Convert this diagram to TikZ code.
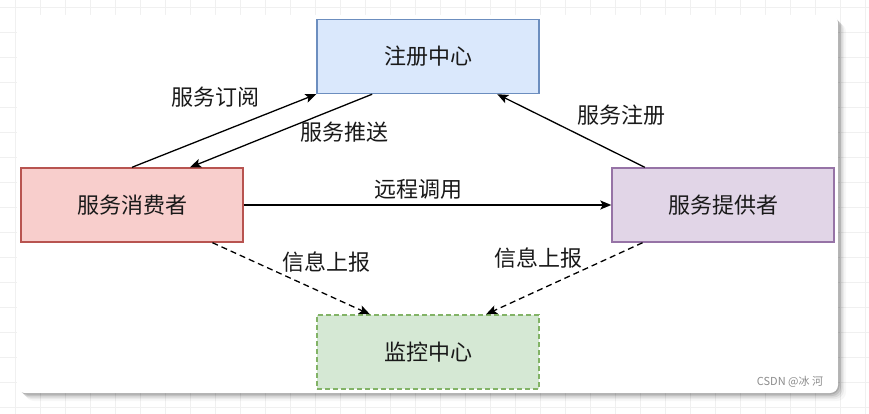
\documentclass[tikz,border=0pt]{standalone}
\usepackage{fontspec}
\setmainfont{Noto Sans CJK SC}
\usetikzlibrary{calc,arrows.meta,positioning}
\definecolor{regfill}{HTML}{DAE8FC}
\definecolor{regline}{HTML}{6C8EBF}
\definecolor{consfill}{HTML}{F8CECC}
\definecolor{consline}{HTML}{B85450}
\definecolor{provfill}{HTML}{E1D5E7}
\definecolor{provline}{HTML}{9673A6}
\definecolor{monfill}{HTML}{D5E8D4}
\definecolor{monline}{HTML}{82B366}
\definecolor{gridgray}{HTML}{F0F0F0}

\begin{document}
\begin{tikzpicture}[x=1pt, y=-1pt, font=\fontsize{22}{26}\selectfont,
    box/.style={draw, line width=1.4pt, minimum width=222pt, minimum height=74pt, inner sep=0pt, text=black!90},
    link/.style={line width=1.3pt, -{Stealth[length=11pt, width=9pt, inset=2.5pt]}},
    report/.style={link, dash pattern=on 6pt off 4pt},
    lbl/.style={text=black!90}]
  \useasboundingbox (0,0) rectangle (869,414);
  % canvas grid
  \foreach \gx in {15,40,...,865} \draw[gridgray, line width=0.6pt] (\gx,0) -- (\gx,414);
  \foreach \gy in {7,32,...,407} \draw[gridgray, line width=0.6pt] (0,\gy) -- (869,\gy);
  % card with shadow
  \foreach \s/\o in {8/0.03,6/0.05,4.5/0.08,3/0.1,1.5/0.12} {
    \fill[black, opacity=\o, rounded corners=9pt] (17+\s,15+\s) rectangle (838+\s,393+\s);
  }
  \fill[white, rounded corners=8pt] (17,15) rectangle (838,393);
  % boxes
  \node[box, fill=regfill, draw=regline] (reg) at (428,56.5) {注册中心};
  \node[box, fill=consfill, draw=consline] (cons) at (132,205) {服务消费者};
  \node[box, fill=provfill, draw=provline] (prov) at (723,205) {服务提供者};
  \node[box, fill=monfill, draw=monline, dash pattern=on 5pt off 3pt] (mon) at (428,352) {监控中心};
  % arrows
  \draw[link] (cons.north) -- (reg.south west);
  \draw[link] ($(reg.south west)!0.25!(reg.south east)$) -- ($(cons.north west)!0.76!(cons.north east)$);
  \draw[link] ($(prov.north west)!0.15!(prov.north east)$) -- ($(reg.south west)!0.81!(reg.south east)$);
  \draw[link] (cons.east) -- (prov.west);
  \draw[report] ($(cons.south west)!0.86!(cons.south east)$) -- ($(mon.north west)!0.24!(mon.north east)$);
  \draw[report] ($(prov.south west)!0.14!(prov.south east)$) -- ($(mon.north west)!0.76!(mon.north east)$);
  % labels
  \node[lbl] (subLbl) at (215,97) {服务订阅};
  \node[lbl] (pushLbl) at (344,132) {服务推送};
  \node[lbl] (regLbl) at (621,115) {服务注册};
  \node[lbl] (callLbl) at (418,189) {远程调用};
  \node[lbl] (repLblL) at (326,262) {信息上报};
  \node[lbl] (repLblR) at (538,258) {信息上报};
  \node[text=black!45, font=\fontsize{11}{13}\selectfont] (mark) at (790,382) {CSDN @冰 河};
\end{tikzpicture}
\end{document}
